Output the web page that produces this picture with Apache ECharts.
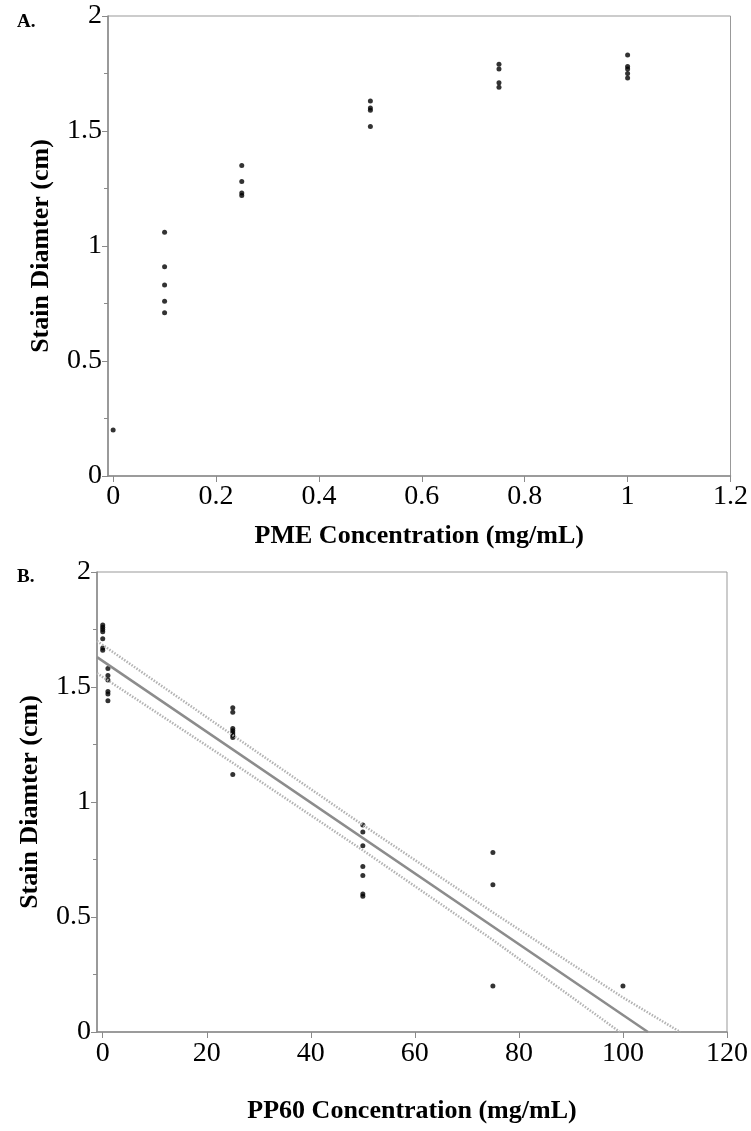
<!DOCTYPE html>
<html>
<head>
<meta charset="utf-8">
<title>Stain diameter vs concentration</title>
<script src="https://cdn.jsdelivr.net/npm/echarts@6/dist/echarts.min.js"></script>
<style>
    html, body { margin: 0; padding: 0; background: #fff; }
    #stain_chart { width: 751px; height: 1131px; }
</style>
</head>
<body>
<div id="stain_chart"></div>
<script>

// Data
// ------------------------------

// Panel A - PME
var pmeLevels = [0, 0.1, 0.25, 0.5, 0.75, 1];
var pmeAt0 = [0.20];
var pmeAt010 = [1.06, 0.91, 0.83, 0.76, 0.71];
var pmeAt025 = [1.35, 1.28, 1.23, 1.22];
var pmeAt050 = [1.63, 1.60, 1.59, 1.52];
var pmeAt075 = [1.79, 1.77, 1.71, 1.69];
var pmeAt100 = [1.83, 1.78, 1.77, 1.75, 1.73];
var pmeTicks = [0, 0.2, 0.4, 0.6, 0.8, 1, 1.2];

// Panel B - PP60
var pp60Levels = [0, 1, 25, 50, 75, 100];
var pp60At0 = [1.77, 1.76, 1.75, 1.74, 1.71, 1.67, 1.66];
var pp60At1 = [1.58, 1.55, 1.53, 1.48, 1.47, 1.44];
var pp60At25 = [1.41, 1.39, 1.32, 1.31, 1.30, 1.29, 1.28, 1.12];
var pp60At50 = [0.90, 0.87, 0.81, 0.72, 0.68, 0.60, 0.59];
var pp60At75 = [0.78, 0.64, 0.20];
var pp60At100 = [0.20];
var pp60Ticks = [0, 20, 40, 60, 80, 100, 120];

// Regression fit and confidence band
var fitX = [-1.1, 104.8];
var fitY = [1.63, 0];
var upperX = [-1.1, 25, 50, 75, 100, 111];
var upperY = [1.70, 1.29, 0.90, 0.52, 0.15, 0];
var lowerX = [-1.1, 25, 50, 75, 99.4];
var lowerY = [1.56, 1.17, 0.79, 0.40, 0];


// Setup module
// ------------------------------

var StainChart = function() {

    var serif = '"Liberation Serif", "Times New Roman", serif';
    var axisGray = '#8a8a8a';

    // Pair x levels with replicate arrays
    var toPoints = function(levels, groups) {
        var out = [];
        levels.forEach(function(x, i) {
            groups[i].forEach(function(y) {
                out.push([x, y]);
            });
        });
        return out;
    };

    var zip = function(xs, ys) {
        return xs.map(function(x, i) { return [x, ys[i]]; });
    };

    var xAxisFor = function(gridIndex, min, max, ticks, name, nameGap, labelMargin) {
        return {
            gridIndex: gridIndex,
            type: 'value',
            min: min,
            max: max,
            name: name,
            nameLocation: 'middle',
            nameGap: nameGap,
            nameTextStyle: { fontFamily: serif, fontWeight: 'bold', fontSize: 26, color: '#000' },
            axisLine: { show: true, onZero: false, lineStyle: { color: axisGray, width: 1.5 } },
            axisTick: { show: true, length: 6, customValues: ticks, lineStyle: { color: axisGray } },
            axisLabel: { customValues: ticks, margin: labelMargin, fontFamily: serif, fontSize: 28, color: '#000' },
            splitLine: { show: false }
        };
    };

    var yAxisFor = function(gridIndex) {
        return {
            gridIndex: gridIndex,
            type: 'value',
            min: 0,
            max: 2,
            interval: 0.5,
            name: 'Stain Diamter (cm)',
            nameLocation: 'middle',
            nameGap: 54,
            nameTextStyle: { fontFamily: serif, fontWeight: 'bold', fontSize: 26, color: '#000' },
            axisLine: { show: true, onZero: false, lineStyle: { color: axisGray, width: 1.5 } },
            axisTick: { show: true, length: 6, lineStyle: { color: axisGray } },
            minorTick: { show: true, splitNumber: 2, length: 4, lineStyle: { color: axisGray } },
            axisLabel: { margin: 6, fontFamily: serif, fontSize: 28, color: '#000' },
            splitLine: { show: false },
            minorSplitLine: { show: false }
        };
    };

    var dots = function(idx, data) {
        return {
            type: 'scatter',
            xAxisIndex: idx,
            yAxisIndex: idx,
            symbol: 'circle',
            symbolSize: 5,
            itemStyle: { color: '#000' },
            data: data
        };
    };

    var line = function(data, style) {
        return {
            type: 'line',
            xAxisIndex: 1,
            yAxisIndex: 1,
            symbol: 'none',
            silent: true,
            clip: true,
            lineStyle: style,
            data: data
        };
    };

    var _stainChart = function() {
        if (typeof echarts == 'undefined') {
            console.warn('Warning - echarts.min.js is not loaded.');
            return;
        }

        var chart_element = document.getElementById('stain_chart');
        if (!chart_element) return;

        var chart = echarts.init(chart_element, null, { renderer: 'canvas' });

        chart.setOption({
            animation: false,
            backgroundColor: '#fff',
            textStyle: { fontFamily: serif },

            // Panel letters
            title: [
                { text: 'A.', left: 12, top: 8, textStyle: { fontFamily: serif, fontWeight: 'bold', fontSize: 19, color: '#000' } },
                { text: 'B.', left: 12, top: 563, textStyle: { fontFamily: serif, fontWeight: 'bold', fontSize: 19, color: '#000' } }
            ],

            // Two stacked plots with a box frame
            grid: [
                { left: 108, top: 16, right: 13, height: 460, show: true, borderColor: '#999', borderWidth: 1 },
                { left: 97, top: 572, right: 13, height: 460, show: true, borderColor: '#999', borderWidth: 1 }
            ],

            xAxis: [
                xAxisFor(0, -0.01, 1.2, pmeTicks, 'PME Concentration (mg/mL)', 47, 7),
                xAxisFor(1, -1.1, 120, pp60Ticks, 'PP60 Concentration (mg/mL)', 66, 8)
            ],

            yAxis: [yAxisFor(0), yAxisFor(1)],

            series: [
                dots(0, toPoints(pmeLevels, [pmeAt0, pmeAt010, pmeAt025, pmeAt050, pmeAt075, pmeAt100])),
                line(zip(upperX, upperY), { color: '#b3b3b3', width: 2.5, type: [1.5, 1.5] }),
                line(zip(lowerX, lowerY), { color: '#b3b3b3', width: 2.5, type: [1.5, 1.5] }),
                line(zip(fitX, fitY), { color: '#8c8c8c', width: 2.5, type: 'solid' }),
                dots(1, toPoints(pp60Levels, [pp60At0, pp60At1, pp60At25, pp60At50, pp60At75, pp60At100]))
            ]
        });
    };

    return {
        init: function() {
            _stainChart();
        }
    }
}();


// Initialize module
// ------------------------------

document.addEventListener('DOMContentLoaded', function() {
    StainChart.init();
});
</script>
</body>
</html>
